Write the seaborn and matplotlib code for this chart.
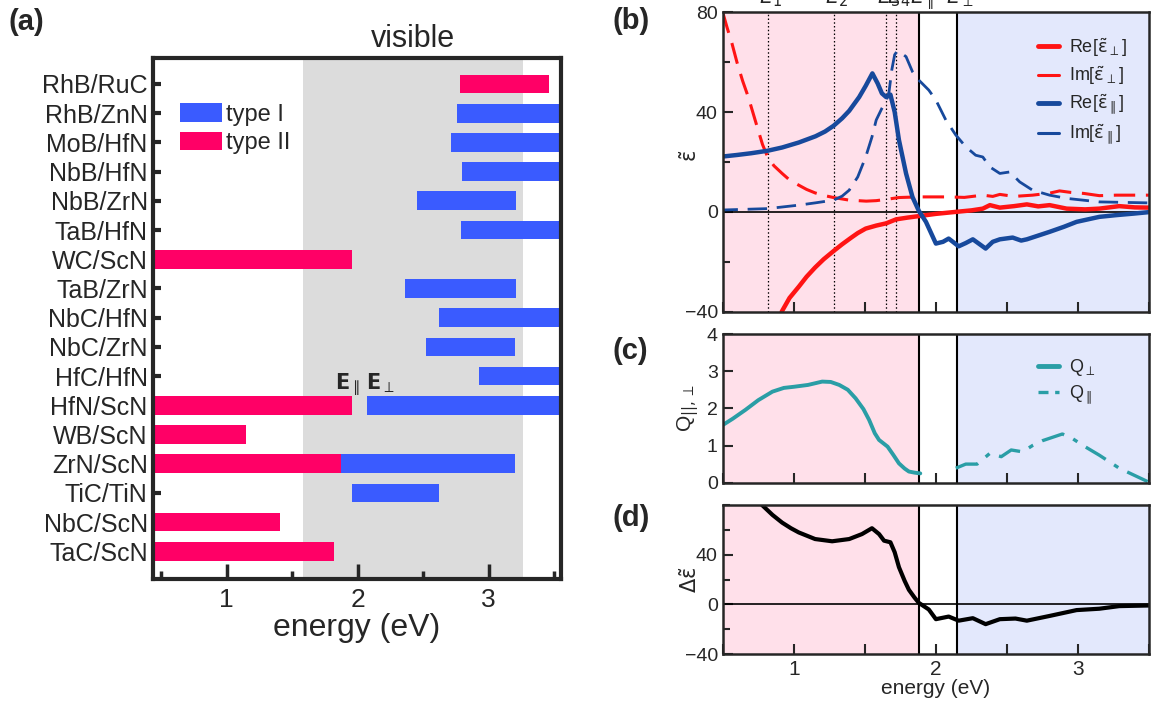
import numpy as np
import pandas as pd
import matplotlib
matplotlib.use("Agg")
import matplotlib.pyplot as plt
import seaborn as sns
from matplotlib.ticker import MultipleLocator
from matplotlib.patches import Patch
from matplotlib.lines import Line2D
import matplotlib.transforms as mtrans

nan = np.nan

# ---------------- panel (a) data ----------------
pairs = ["RhB/RuC", "RhB/ZnN", "MoB/HfN", "NbB/HfN", "NbB/ZrN", "TaB/HfN",
         "WC/ScN", "TaB/ZrN", "NbC/HfN", "NbC/ZrN", "HfC/HfN", "HfN/ScN",
         "WB/ScN", "ZrN/ScN", "TiC/TiN", "NbC/ScN", "TaC/ScN"]
type1_start = [nan, 2.76, 2.71, 2.80, 2.45, 2.79, nan, 2.36, 2.62, 2.52, 2.93,
               2.07, nan, 1.875, 1.955, nan, nan]
type1_end = [nan, 3.60, 3.60, 3.60, 3.21, 3.60, nan, 3.21, 3.60, 3.20, 3.60,
             3.60, nan, 3.20, 2.62, nan, nan]
type2_start = [2.78, nan, nan, nan, nan, nan, 0.40, nan, nan, nan, nan,
               0.40, 0.40, 0.40, nan, 0.40, 0.40]
type2_end = [3.46, nan, nan, nan, nan, nan, 1.96, nan, nan, nan, nan,
             1.96, 1.15, 1.875, nan, 1.41, 1.82]
visible_range = [1.585, 3.26]

# ---------------- panel (b) data ----------------
E_par = 1.88
E_perp = 2.15
E_lines = [0.817, 1.28, 1.65, 1.72]
E_line_labels = [r"$E_1$", r"$E_2$", r"$E_3$", r"$E_4$"]

re_perp_E = [0.915, 0.97, 1.035, 1.09, 1.15, 1.21, 1.28, 1.34, 1.40, 1.45,
             1.506, 1.58, 1.65, 1.72, 1.80, 1.88, 2.0, 2.14, 2.25, 2.33, 2.38,
             2.45, 2.55, 2.64, 2.72, 2.80, 2.92, 3.05, 3.15, 3.29, 3.40, 3.50]
re_perp = [-40, -34.5, -30, -26, -22.3, -19, -15.7, -13, -10.5, -8.5,
           -6.7, -5.5, -4.6, -3.0, -2.3, -1.7, -0.8, 0.0, 0.6, 1.3, 2.7,
           1.7, 2.3, 3.0, 2.2, 2.7, 1.3, 1.0, 1.3, 2.3, 1.8, 1.7]

im_perp_E = [0.50, 0.53, 0.565, 0.60, 0.64, 0.68, 0.74, 0.78, 0.816, 0.86,
             0.918, 0.97, 1.035, 1.09, 1.15, 1.21, 1.28, 1.39, 1.51, 1.58,
             1.65, 1.74, 1.88, 2.09, 2.20, 2.33, 2.40, 2.45, 2.55, 2.68, 2.80,
             2.87, 2.95, 3.04, 3.15, 3.27, 3.50]
im_perp = [80, 74, 67.5, 60, 52.5, 46, 34.5, 27, 22, 18.5,
           15.4, 12.8, 10.7, 9.0, 7.6, 6.6, 5.75, 4.7, 4.3, 4.5,
           5.0, 5.75, 6.0, 6.0, 5.8, 6.7, 6.2, 7.0, 6.2, 6.7, 7.5,
           8.4, 7.8, 7.4, 6.5, 6.7, 6.7]

re_par_E = [0.47, 0.60, 0.70, 0.816, 0.918, 1.035, 1.153, 1.22, 1.28, 1.34,
            1.39, 1.46, 1.506, 1.553, 1.59, 1.62, 1.65, 1.68, 1.71, 1.74, 1.79,
            1.835, 1.88, 1.93, 2.0, 2.05, 2.09, 2.16, 2.21, 2.26, 2.35, 2.40,
            2.45, 2.54, 2.60, 2.64, 2.72, 2.80, 2.90, 2.99, 3.07, 3.15, 3.27,
            3.39, 3.50]
re_par = [22, 22.8, 23.5, 24.5, 25.8, 27.8, 30.3, 32.2, 34.5, 37.5,
          40.5, 46, 50.5, 55.5, 51.5, 47.5, 46, 47, 40, 28.8, 15.4,
          6, 0.4, -4, -12.7, -12, -10.7, -13.8, -12.5, -11, -14.7, -12,
          -11, -10.3, -11.5, -11, -9.5, -8, -6, -4, -3, -2, -1.3,
          -0.7, -0.1]

im_par_E = [0.47, 0.816, 1.035, 1.15, 1.28, 1.34, 1.39, 1.45, 1.506, 1.55,
            1.58, 1.62, 1.65, 1.67, 1.69, 1.71, 1.73, 1.76, 1.79, 1.835,
            1.88, 1.95, 2.0, 2.07, 2.14, 2.21, 2.28, 2.33, 2.38, 2.45, 2.52,
            2.59, 2.68, 2.80, 2.92, 3.15, 3.50]
im_par = [0.7, 1.3, 2.7, 3.6, 4.7, 6.3, 8.7, 14, 22, 30,
          36.8, 41.5, 44.5, 48, 57, 63, 64.6, 63.5, 62.2, 56.2,
          52.8, 48.8, 44.8, 36.8, 30.8, 26.1, 22.7, 22, 18, 15.4, 16,
          12, 8.7, 6.7, 5.4, 4.0, 3.6]

# ---------------- panel (c) data ----------------
q_perp_E = [0.475, 0.57, 0.66, 0.75, 0.85, 0.93, 1.0, 1.1, 1.2, 1.26, 1.32,
            1.38, 1.435, 1.49, 1.53, 1.57, 1.60, 1.66, 1.70, 1.74, 1.78, 1.81,
            1.85, 1.89]
q_perp = [1.49, 1.72, 1.96, 2.22, 2.45, 2.55, 2.58, 2.63, 2.72, 2.71, 2.63,
          2.50, 2.27, 1.98, 1.69, 1.33, 1.15, 0.97, 0.75, 0.52, 0.38, 0.30,
          0.27, 0.25]
q_par_E = [2.14, 2.21, 2.29, 2.38, 2.46, 2.53, 2.61, 2.68, 2.75, 2.82, 2.89,
           2.96, 3.04, 3.15, 3.29, 3.49]
q_par = [0.39, 0.50, 0.50, 0.79, 0.70, 0.88, 0.83, 1.00, 1.13, 1.22, 1.31,
         1.19, 0.99, 0.74, 0.39, 0.03]

# ---------------- panel (d) data ----------------
d_eps_E = [0.776, 0.85, 0.918, 0.98, 1.035, 1.15, 1.27, 1.39, 1.48, 1.55,
           1.60, 1.635, 1.68, 1.71, 1.74, 1.78, 1.81, 1.85, 1.88, 1.95, 2.0,
           2.09, 2.16, 2.26, 2.35, 2.45, 2.56, 2.64, 2.80, 2.99, 3.15, 3.29,
           3.50]
d_eps = [80, 72, 65.8, 61.3, 57.9, 52.6, 50.8, 52.6, 56.6, 61.3,
         56.6, 51.3, 50, 42, 30, 19, 11.8, 5.5, 1.3, -4, -11.8,
         -9.7, -13, -11, -15.8, -11.8, -11.3, -13, -9.2, -4.5, -3.4, -1.3,
         -0.8]

# ---------------- style ----------------
sns.set_theme(style="ticks")
plt.rcParams["font.family"] = ["Liberation Sans", "DejaVu Sans"]
plt.rcParams["mathtext.fontset"] = "dejavusans"

C_T1 = "#3a5bff"
C_T2 = "#ff0066"
C_GRAY = "#dcdcdc"
C_RED = "#ff1414"
C_BLUE = "#17499c"
C_TEAL = "#2a9ea6"
C_PINK_BG = "#ffe0ea"
C_BLUE_BG = "#e3e8fc"

fig = plt.figure(figsize=(11.56, 7.09), dpi=100)

# ================= panel (a) =================
axa = fig.add_axes([0.1326, 0.1829, 0.3524, 0.7357])
ypos = np.arange(len(pairs))
axa.axvspan(visible_range[0], visible_range[1], color=C_GRAY, lw=0, zorder=0)
t1s = np.array(type1_start); t1e = np.array(type1_end)
t2s = np.array(type2_start); t2e = np.array(type2_end)
m1 = ~np.isnan(t1s)
m2 = ~np.isnan(t2s)
axa.barh(ypos[m1], t1e[m1] - t1s[m1], left=t1s[m1], height=0.64, color=C_T1,
         linewidth=0, zorder=2)
axa.barh(ypos[m2], t2e[m2] - t2s[m2], left=t2s[m2], height=0.64, color=C_T2,
         linewidth=0, zorder=2)
axa.set_xlim(0.44, 3.55)
axa.set_ylim(len(pairs) - 1 + 0.96, -0.9)
axa.set_yticks(ypos)
axa.set_yticklabels(pairs)
axa.xaxis.set_major_locator(MultipleLocator(1))
axa.xaxis.set_minor_locator(MultipleLocator(0.5))
axa.tick_params(axis="y", direction="in", length=6, width=3, labelsize=18, pad=4)
axa.tick_params(axis="x", which="major", direction="in", length=11, width=2.5,
                labelsize=19, pad=6)
axa.tick_params(axis="x", which="minor", direction="in", length=6, width=2.5)
for s in axa.spines.values():
    s.set_linewidth(3)
    s.set_zorder(5)
axa.set_xlabel("energy (eV)", fontsize=23, labelpad=1)
axa.text(np.mean(visible_range), 1.02, "visible", fontsize=22, ha="center",
         va="baseline",
         transform=mtrans.blended_transform_factory(axa.transData, axa.transAxes))
axa.text(E_par + 0.04, 10.45, r"$\mathbf{E}_{\parallel}$", fontsize=15,
         ha="center", va="baseline")
axa.text(E_perp + 0.02, 10.45, r"$\mathbf{E}_{\perp}$", fontsize=15,
         ha="center", va="baseline")
leg_a = axa.legend(handles=[Patch(color=C_T1, lw=0, label="type I"),
                            Patch(color=C_T2, lw=0, label="type II")],
                   loc="upper left", bbox_to_anchor=(0.065, 0.913), frameon=False,
                   fontsize=17, handlelength=1.8, handleheight=0.85,
                   handletextpad=0.15, labelspacing=0.25, borderaxespad=0,
                   borderpad=0)

# ================= panels (b),(c),(d) =================
L, W = 0.6252, 0.3688
axb = fig.add_axes([L, 0.5604, W, 0.4223])
axc = fig.add_axes([L, 0.3192, W, 0.2097])
axd = fig.add_axes([L, 0.0772, W, 0.2106])

for ax in (axb, axc, axd):
    ax.axvspan(0.4, E_par, color=C_PINK_BG, lw=0, zorder=0)
    ax.axvspan(E_perp, 3.6, color=C_BLUE_BG, lw=0, zorder=0)
    ax.axvline(E_par, color="black", lw=1.5, zorder=1)
    ax.axvline(E_perp, color="black", lw=1.5, zorder=1)
    ax.set_xlim(0.5, 3.5)
    ax.xaxis.set_major_locator(MultipleLocator(1))
    ax.xaxis.set_minor_locator(MultipleLocator(0.5))
    ax.tick_params(axis="both", which="major", direction="in", length=7, width=1.5,
                   labelsize=14)
    ax.tick_params(axis="both", which="minor", direction="in", length=5, width=1.5)
    ax.tick_params(axis="x", which="minor", length=7)
    for s in ax.spines.values():
        s.set_linewidth(1.8)
        s.set_zorder(5)

# ---- (b)
for x in E_lines:
    axb.axvline(x, color="black", lw=0.9, ls=(0, (1.2, 1.8)), zorder=1)
axb.axhline(0, color="black", lw=1.2, zorder=1)
sns.lineplot(data=pd.DataFrame({"E": re_perp_E, "v": re_perp}), x="E", y="v",
             ax=axb, color=C_RED, lw=3.2, sort=False, estimator=None, zorder=3)
sns.lineplot(data=pd.DataFrame({"E": im_perp_E, "v": im_perp}), x="E", y="v",
             ax=axb, color=C_RED, lw=2.2, sort=False, estimator=None, zorder=3)
axb.lines[-1].set_dashes([7, 3.5])
sns.lineplot(data=pd.DataFrame({"E": re_par_E, "v": re_par}), x="E", y="v",
             ax=axb, color=C_BLUE, lw=3.2, sort=False, estimator=None, zorder=3)
sns.lineplot(data=pd.DataFrame({"E": im_par_E, "v": im_par}), x="E", y="v",
             ax=axb, color=C_BLUE, lw=2.0, sort=False, estimator=None, zorder=3)
axb.lines[-1].set_dashes([7, 3.5])
axb.set_ylim(-40, 80)
axb.yaxis.set_major_locator(MultipleLocator(40))
axb.yaxis.set_minor_locator(MultipleLocator(20))
axb.tick_params(axis="x", labelbottom=False)
axb.set_xlabel("")
axb.set_ylabel(r"$\mathrm{\tilde{\varepsilon}}$", fontsize=15)
axb.yaxis.set_label_coords(-0.05, 0.52)
trans_b = mtrans.blended_transform_factory(axb.transData, axb.transAxes)
for x, lab in zip(E_lines + [E_par, E_perp],
                  E_line_labels + [r"$E_{\parallel}$", r"$E_{\perp}$"]):
    axb.text(x + 0.02, 1.031, lab, fontsize=15, ha="center", va="baseline",
             transform=trans_b, clip_on=False)
axb.legend(handles=[
    Line2D([], [], color=C_RED, lw=3.5, label=r"Re[$\mathrm{\tilde{\varepsilon}}_{\perp}$]"),
    Line2D([], [], color=C_RED, lw=2.2, label=r"Im[$\mathrm{\tilde{\varepsilon}}_{\perp}$]"),
    Line2D([], [], color=C_BLUE, lw=3.5, label=r"Re[$\mathrm{\tilde{\varepsilon}}_{\parallel}$]"),
    Line2D([], [], color=C_BLUE, lw=2.2, label=r"Im[$\mathrm{\tilde{\varepsilon}}_{\parallel}$]")],
    loc="upper left", bbox_to_anchor=(0.74, 0.92), frameon=False, fontsize=13,
    handlelength=1.15, handletextpad=0.55, labelspacing=0.32, borderaxespad=0,
    borderpad=0)

# ---- (c)
sns.lineplot(data=pd.DataFrame({"E": q_perp_E, "v": q_perp}), x="E", y="v",
             ax=axc, color=C_TEAL, lw=2.8, sort=False, estimator=None, zorder=3)
sns.lineplot(data=pd.DataFrame({"E": q_par_E, "v": q_par}), x="E", y="v",
             ax=axc, color=C_TEAL, lw=2.4, sort=False, estimator=None, zorder=3)
axc.lines[-1].set_dashes([7, 3, 1.5, 3])
axc.set_ylim(0, 4)
axc.yaxis.set_major_locator(MultipleLocator(1))
axc.tick_params(axis="x", labelbottom=False)
axc.set_xlabel("")
axc.set_ylabel(r"Q$_{||,\perp}$", fontsize=15)
axc.yaxis.set_label_coords(-0.05, 0.5)
axc.legend(handles=[
    Line2D([], [], color=C_TEAL, lw=3.5, label=r"Q$_{\perp}$"),
    Line2D([], [], color=C_TEAL, lw=2.4, dashes=[3, 2], label=r"Q$_{\parallel}$")],
    loc="upper left", bbox_to_anchor=(0.74, 0.845), frameon=False, fontsize=13,
    handlelength=1.15, handletextpad=0.55, labelspacing=0.3, borderaxespad=0,
    borderpad=0)

# ---- (d)
axd.axhline(0, color="black", lw=1.2, zorder=1)
sns.lineplot(data=pd.DataFrame({"E": d_eps_E, "v": d_eps}), x="E", y="v",
             ax=axd, color="black", lw=3.0, sort=False, estimator=None, zorder=3)
axd.set_ylim(-40, 80)
axd.yaxis.set_minor_locator(MultipleLocator(20))
axd.set_yticks([-40, 0, 40])
axd.set_xlabel("energy (eV)", fontsize=15, labelpad=0)
axd.tick_params(axis="x", labelsize=15, pad=4)
axd.set_ylabel(r"$\Delta\mathrm{\tilde{\varepsilon}}$", fontsize=15)
axd.yaxis.set_label_coords(-0.05, 0.5)

# panel letters
fig.text(0.007, 0.969, "(a)", fontsize=21, fontweight="bold", va="center")
fig.text(0.530, 0.971, "(b)", fontsize=21, fontweight="bold", va="center")
fig.text(0.530, 0.505, "(c)", fontsize=21, fontweight="bold", va="center")
fig.text(0.530, 0.270, "(d)", fontsize=21, fontweight="bold", va="center")

fig.savefig("out.png", dpi=100)
